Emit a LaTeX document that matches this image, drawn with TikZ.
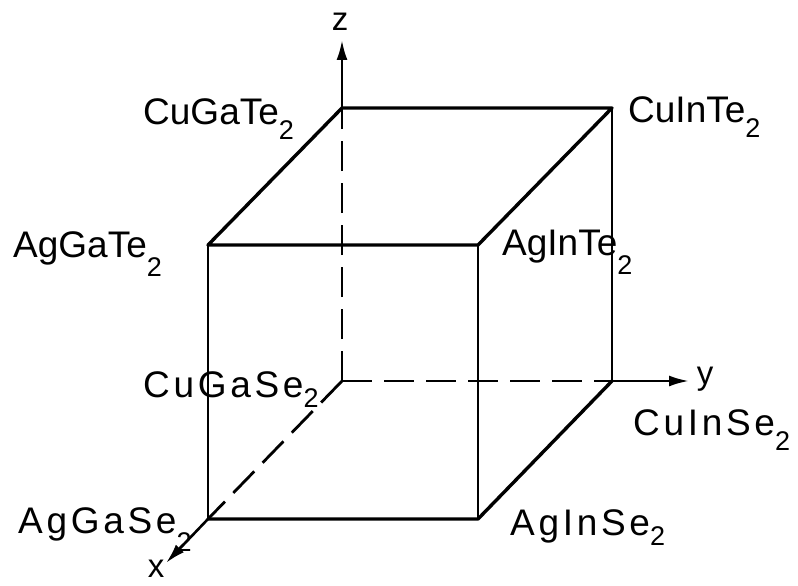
\documentclass[tikz,border=0pt]{standalone}
\usepackage{fontspec}
\setmainfont{Liberation Sans}
\newfontfamily\spacedfont{Liberation Sans}[LetterSpace=10]
\usetikzlibrary{arrows.meta}

\newcommand{\lowtwo}[1][15pt]{\raisebox{-#1}{\fontsize{27}{27}\selectfont 2}}

\begin{document}
\begin{tikzpicture}[x=1pt, y=-1pt,
  edge/.style={line width=3.4pt, line cap=round, line join=round},
  thinedge/.style={line width=2.2pt},
  axisdash/.style={line width=2.8pt, dash pattern=on 30pt off 12pt},
  axisarrow/.style={line width=2.6pt, -{Latex[length=20pt, width=11pt]}},
  corner/.style={font=\fontsize{37}{37}\selectfont, inner sep=0pt, anchor=base west},
  axislabel/.style={font=\fontsize{33}{33}\selectfont, inner sep=0pt}]
  \useasboundingbox (0,0) rectangle (798,586);
  % cube corners
  \coordinate (cgt) at (342,108);
  \coordinate (cit) at (612,108);
  \coordinate (agt) at (208,245);
  \coordinate (ait) at (478,245);
  \coordinate (cgs) at (342,381);
  \coordinate (cis) at (612,381);
  \coordinate (ags) at (208,519);
  \coordinate (ais) at (478,519);
  \coordinate (zend) at (342,40);
  \coordinate (yend) at (689,381);
  \coordinate (xend) at (166,563);
  % axes
  \draw[axisdash] (cgs) -- (cgt);
  \draw[axisdash] (cgs) -- (cis);
  \draw[axisdash] (cgs) -- (ags);
  \draw[axisarrow] (cgt) -- (zend);
  \draw[axisarrow] (cis) -- (yend);
  \draw[axisarrow] (ags) -- (xend);
  % cube
  \draw[edge] (cgt) -- (cit) -- (ait) -- (agt) -- cycle;
  \draw[edge] (ags) -- (ais) -- (cis);
  \draw[thinedge] (agt) -- (ags);
  \draw[thinedge] (ait) -- (ais);
  \draw[thinedge] (cit) -- (cis);
  % labels
  \node[corner] (lcgt) at (143,124) {CuGaTe\lowtwo};
  \node[corner] (lcit) at (628,122) {CuInTe\lowtwo};
  \node[corner] (lagt) at (13,257) {AgGaTe\lowtwo[19pt]};
  \node[corner] (lait) at (502,255) {AgInTe\lowtwo[19pt]};
  \node[corner] (lcgs) at (143,397) {\spacedfont CuGaSe\lowtwo[10pt]};
  \node[corner] (lcis) at (633,435) {\spacedfont CuInSe\lowtwo};
  \node[corner] (lags) at (18,533) {\spacedfont AgGaSe\lowtwo[18pt]};
  \node[corner] (lais) at (510,535) {\spacedfont AgInSe\lowtwo[10pt]};
  \node[axislabel] (lz) at (340,22) {z};
  \node[axislabel] (ly) at (705,379) {y};
  \node[axislabel] (lx) at (156,569) {x};
\end{tikzpicture}
\end{document}
